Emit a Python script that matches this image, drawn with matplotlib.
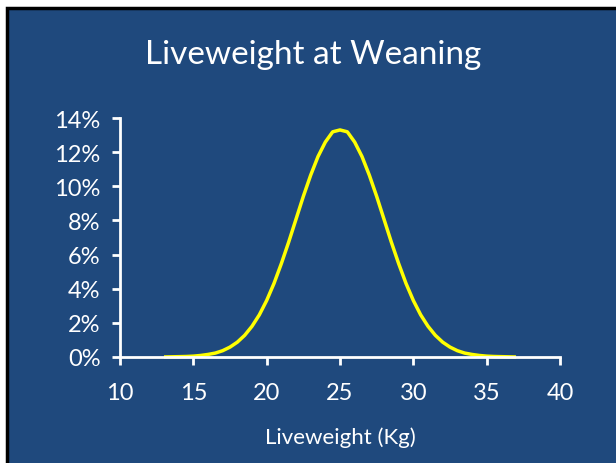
import matplotlib.pyplot as plt
from matplotlib.patches import Rectangle
from matplotlib.ticker import PercentFormatter

# Values (liveweight in kg, share in %)
liveweight = [13, 13.5, 14, 14.5, 15, 15.5, 16, 16.5, 17, 17.5, 18, 18.5,
              19, 19.5, 20, 20.5, 21, 21.5, 22, 22.5, 23, 23.5, 24, 24.5,
              25, 25.5, 26, 26.5, 27, 27.5, 28, 28.5, 29, 29.5, 30, 30.5,
              31, 31.5, 32, 32.5, 33, 33.5, 34, 34.5, 35, 35.5, 36, 36.5, 37]
share = [0.0, 0.01, 0.02, 0.03, 0.05, 0.09, 0.15, 0.23, 0.37, 0.58, 0.87, 1.27,
         1.8, 2.47, 3.31, 4.31, 5.47, 6.73, 8.07, 9.41, 10.65, 11.74, 12.59, 13.19,
         13.3, 13.19, 12.59, 11.74, 10.65, 9.41, 8.07, 6.73, 5.47, 4.31, 3.31, 2.47,
         1.8, 1.27, 0.87, 0.58, 0.37, 0.23, 0.15, 0.09, 0.05, 0.03, 0.02, 0.01, 0.0]

bg = '#1F497D'
font = ['Lato', 'DejaVu Sans']
plt.rcParams['font.family'] = font

fig = plt.figure(figsize=(6.16, 4.64), dpi=100)
fig.patch.set_facecolor('white')

# blue panel with black frame on the left and top
panel = Rectangle((7 / 616, -0.05), 1.1, (464 - 9) / 464 + 0.05,
                  transform=fig.transFigure, facecolor=bg,
                  edgecolor='black', linewidth=2.5, zorder=-1)
fig.add_artist(panel)

ax = fig.add_axes([120 / 616, (464 - 358) / 464, 440 / 616, 239 / 464])
ax.set_zorder(2)
ax.patch.set_alpha(0)
ax.plot(liveweight, share, color='#FFFF00', linewidth=2.5, solid_capstyle='butt',
        solid_joinstyle='round', clip_on=False)

ax.set_xlim(10, 40)
ax.set_ylim(0, 14)
ax.set_xticks(range(10, 41, 5))
ax.set_yticks(range(0, 15, 2))
ax.yaxis.set_major_formatter(PercentFormatter(decimals=0))

for side in ['top', 'right']:
    ax.spines[side].set_visible(False)
for side in ['left', 'bottom']:
    ax.spines[side].set_color('white')
    ax.spines[side].set_linewidth(2)
ax.tick_params(colors='white', labelsize=17, width=2, length=6, pad=8)
ax.tick_params(axis='x', pad=12)

ax.set_xlabel('Liveweight (Kg)', color='white', fontsize=16, labelpad=17)
fig.text(0.508, (464 - 55) / 464, 'Liveweight at Weaning', color='white',
         fontsize=24, ha='center', va='center')

fig.savefig('out.png', dpi=100, facecolor=fig.get_facecolor())
